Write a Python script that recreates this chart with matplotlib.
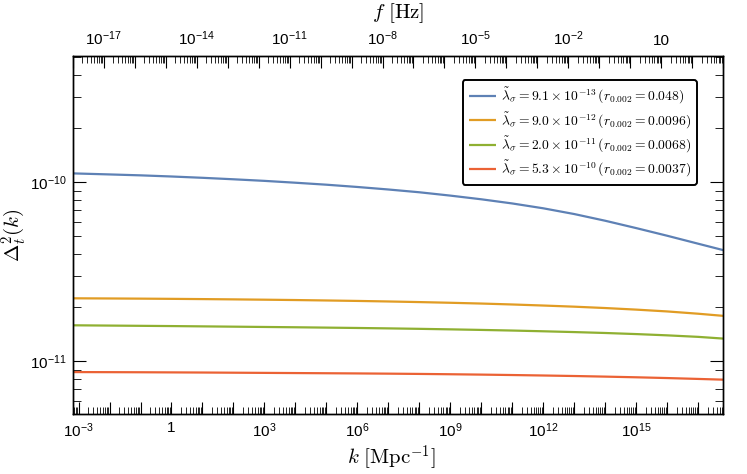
import numpy as np
import matplotlib
matplotlib.use("Agg")
import matplotlib.pyplot as plt
from matplotlib.ticker import FixedLocator, FuncFormatter, NullFormatter
from matplotlib.font_manager import FontProperties

plt.rcParams['mathtext.fontset'] = 'custom'
plt.rcParams['mathtext.rm'] = 'Liberation Sans'
plt.rcParams['mathtext.it'] = 'Liberation Sans:italic'
plt.rcParams['mathtext.bf'] = 'Liberation Sans:bold'
plt.rcParams['font.family'] = ['Liberation Sans', 'DejaVu Sans']

# ---- data ----
F_CONV = 1.5462e-15          # f [Hz] = F_CONV * k [Mpc^-1]
f_range = [1e-18, 1e3]       # Hz
k_vals = [6.47e-4, 1e-2, 1e-1, 1e0, 1e1, 1e2, 1e3, 1e4, 1e5, 1e6, 1e7, 1e8,
          1e9, 1e10, 1e11, 1e12, 1e13, 1e14, 1e15, 1e16, 1e17, 6.47e17]
blue_vals = [1.122e-10, 1.107e-10, 1.094e-10, 1.078e-10, 1.060e-10, 1.040e-10,
             1.019e-10, 0.995e-10, 0.970e-10, 0.942e-10, 0.912e-10, 0.880e-10,
             0.843e-10, 0.804e-10, 0.762e-10, 0.716e-10, 0.665e-10, 0.610e-10,
             0.555e-10, 0.503e-10, 0.454e-10, 0.418e-10]
orange_vals = [2.250e-11, 2.245e-11, 2.240e-11, 2.234e-11, 2.227e-11, 2.219e-11,
               2.210e-11, 2.200e-11, 2.188e-11, 2.175e-11, 2.160e-11, 2.143e-11,
               2.124e-11, 2.103e-11, 2.078e-11, 2.050e-11, 2.020e-11, 1.985e-11,
               1.945e-11, 1.900e-11, 1.845e-11, 1.795e-11]
green_vals = [1.590e-11, 1.584e-11, 1.579e-11, 1.574e-11, 1.568e-11, 1.562e-11,
              1.556e-11, 1.550e-11, 1.543e-11, 1.536e-11, 1.528e-11, 1.519e-11,
              1.509e-11, 1.498e-11, 1.486e-11, 1.472e-11, 1.457e-11, 1.440e-11,
              1.420e-11, 1.397e-11, 1.370e-11, 1.340e-11]
red_vals = [8.710e-12, 8.700e-12, 8.690e-12, 8.675e-12, 8.660e-12, 8.640e-12,
            8.620e-12, 8.600e-12, 8.580e-12, 8.560e-12, 8.535e-12, 8.505e-12,
            8.470e-12, 8.430e-12, 8.385e-12, 8.335e-12, 8.280e-12, 8.215e-12,
            8.145e-12, 8.065e-12, 7.975e-12, 7.900e-12]
series_labels = [
    r"$\tilde{\lambda}_\sigma = 9.1\times 10^{-13}\,(r_{0.002} = 0.048)$",
    r"$\tilde{\lambda}_\sigma = 9.0\times 10^{-12}\,(r_{0.002} = 0.0096)$",
    r"$\tilde{\lambda}_\sigma = 2.0\times 10^{-11}\,(r_{0.002} = 0.0068)$",
    r"$\tilde{\lambda}_\sigma = 5.3\times 10^{-10}\,(r_{0.002} = 0.0037)$",
]
colors = ['#5E81B5', '#E19C24', '#8FB032', '#EB6235']
y_range = [5.08e-12, 5.08e-10]

# ---- figure ----
fig = plt.figure(figsize=(7.47, 4.74), dpi=100)
ax = fig.add_axes([0.0973, 0.1266, 0.871, 0.7553])

for vals, c, lab in zip([blue_vals, orange_vals, green_vals, red_vals], colors, series_labels):
    ax.plot(k_vals, vals, color=c, lw=1.6, label=lab, solid_capstyle='butt')

ax.set_xscale('log')
ax.set_yscale('log')
ax.set_xlim(f_range[0] / F_CONV, f_range[1] / F_CONV)
ax.set_ylim(*y_range)

def fmt_exp(e):
    if e == 0:
        return "1"
    if e == 1:
        return "10"
    return r"$10^{%d}$" % e

TICK_FS = 11

# bottom axis ticks
kdec = np.arange(-3, 18)
ax.xaxis.set_major_locator(FixedLocator([10.0**e for e in kdec]))
ax.xaxis.set_major_formatter(FuncFormatter(
    lambda v, p: fmt_exp(int(round(np.log10(v)))) if int(round(np.log10(v))) % 3 == 0 else ""))
kminor = [m * 10.0**e for e in range(-4, 18) for m in range(2, 10)]
ax.xaxis.set_minor_locator(FixedLocator(kminor))
ax.xaxis.set_minor_formatter(NullFormatter())

# y axis ticks
ax.yaxis.set_major_locator(FixedLocator([1e-11, 1e-10]))
ax.yaxis.set_major_formatter(FuncFormatter(lambda v, p: fmt_exp(int(round(np.log10(v))))))
yminor = [m * 10.0**e for e in range(-12, -9) for m in range(2, 10)]
ax.yaxis.set_minor_locator(FixedLocator(yminor))
ax.yaxis.set_minor_formatter(NullFormatter())

ax.tick_params(axis='x', which='major', direction='in', length=8.5, width=0.8,
               labelsize=TICK_FS, pad=5, top=False, bottom=True)
ax.tick_params(axis='x', which='minor', direction='in', length=5, width=0.6, top=False)
ax.tick_params(axis='y', which='major', direction='in', length=9.5, width=0.8,
               labelsize=TICK_FS, pad=4, left=True, right=True)
ax.tick_params(axis='y', which='minor', direction='in', length=6, width=0.6,
               left=True, right=True)

# top axis (frequency)
ax2 = ax.twiny()
ax2.set_xscale('log')
ax2.set_xlim(*f_range)
fdec = np.arange(-18, 4)
ax2.xaxis.set_major_locator(FixedLocator([10.0**e for e in fdec]))
ax2.xaxis.set_major_formatter(FuncFormatter(
    lambda v, p: fmt_exp(int(round(np.log10(v)))) if (int(round(np.log10(v))) + 17) % 3 == 0 else ""))
fminor = [m * 10.0**e for e in range(-19, 4) for m in range(2, 10)]
ax2.xaxis.set_minor_locator(FixedLocator(fminor))
ax2.xaxis.set_minor_formatter(NullFormatter())
ax2.tick_params(axis='x', which='major', direction='in', length=8.5, width=0.8,
                labelsize=TICK_FS, pad=6)
ax2.tick_params(axis='x', which='minor', direction='in', length=5, width=0.6)

for a in (ax, ax2):
    for s in a.spines.values():
        s.set_linewidth(1.0)

cm = FontProperties(size=15, math_fontfamily='cm')
ax.set_xlabel(r"$k\ [\mathrm{Mpc}^{-1}]$", fontproperties=cm)
ax.xaxis.set_label_coords(0.49, -0.082)
ax.set_ylabel(r"$\Delta_t^2(k)$", fontproperties=cm)
ax.yaxis.set_label_coords(-0.069, 0.5)
ax2.set_xlabel(r"$f\ [\mathrm{Hz}]$", fontproperties=cm, labelpad=8)

leg = ax.legend(loc='upper right', bbox_to_anchor=(0.9596, 0.933), borderaxespad=0,
                prop=FontProperties(size=9.8, math_fontfamily='cm'),
                frameon=True, fancybox=True, framealpha=1, edgecolor='black',
                handlelength=2.0, handletextpad=0.35, labelspacing=0.3,
                borderpad=0.45)
leg.get_frame().set_linewidth(1.4)

fig.savefig("out.png", dpi=100)
